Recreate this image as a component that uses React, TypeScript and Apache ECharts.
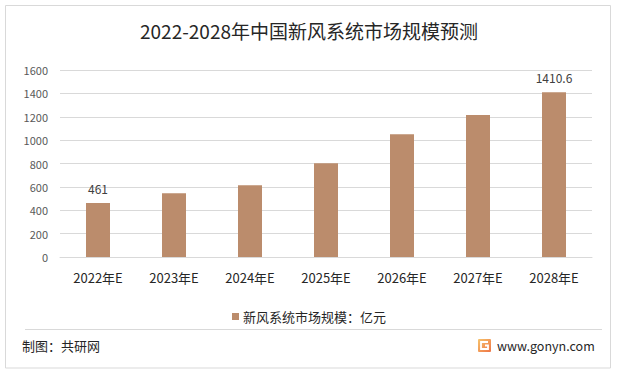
import React, { useEffect, useRef } from "react";
import * as echarts from "echarts";

const categories = ["2022年E", "2023年E", "2024年E", "2025年E", "2026年E", "2027年E", "2028年E"];
const marketSize = [461, 546, 614, 803, 1051, 1214, 1410.6];
const labelledIndices = [0, 6];
const seriesName = "新风系统市场规模：亿元";
const titleText = "2022-2028年中国新风系统市场规模预测";
const footerLeft = "制图：共研网";
const footerRight = "www.gonyn.com";

const FONT = "'Microsoft YaHei', 'Noto Sans CJK SC', 'Noto Sans', sans-serif";

export default function App() {
  const ref = useRef<HTMLDivElement>(null);
  useEffect(() => {
    if (!ref.current) return;
    const chart = echarts.init(ref.current, undefined, { renderer: "svg" });
    chart.setOption({
      animation: false,
      backgroundColor: "#ffffff",
      textStyle: { fontFamily: FONT },
      title: {
        text: titleText,
        left: "center",
        top: 16,
        textStyle: { fontSize: 19, fontWeight: "normal", color: "#262626", fontFamily: FONT },
      },
      legend: {
        data: [seriesName],
        left: "center",
        top: 305,
        icon: "rect",
        itemWidth: 7,
        itemHeight: 7,
        itemGap: 4,
        textStyle: { fontSize: 13, color: "#262626", fontFamily: FONT, padding: [0, 0, 0, -1] },
      },
      grid: { left: 60, right: 26, top: 70, bottom: 116, containLabel: false },
      xAxis: {
        type: "category",
        data: categories,
        axisLine: { lineStyle: { color: "#d9d9d9" } },
        axisTick: { show: false },
        axisLabel: { fontSize: 13, color: "#262626", margin: 14, fontFamily: FONT },
      },
      yAxis: {
        type: "value",
        min: 0,
        max: 1600,
        interval: 200,
        axisLine: { show: false },
        axisTick: { show: false },
        splitLine: { lineStyle: { color: "#d9d9d9" } },
        axisLabel: {
          fontSize: 11,
          color: "#595959",
          margin: 12,
          fontFamily: FONT,
          formatter: (v: number) => String(v),
        },
      },
      series: [
        {
          name: seriesName,
          type: "bar",
          barWidth: 24,
          itemStyle: { color: "#BB8C6C" },
          data: marketSize.map((v, i) => ({
            value: v,
            label: {
              show: labelledIndices.includes(i),
              position: "top",
              distance: 9,
              fontSize: 12,
              color: "#404040",
              fontFamily: FONT,
            },
          })),
        },
      ],
      graphic: [
        {
          type: "rect",
          shape: { x: 5.5, y: 5.5, width: 605, height: 362.5 },
          style: { fill: "none", stroke: "#d9d9d9", lineWidth: 1 },
          silent: true,
          z: -1,
        },
        {
          type: "line",
          shape: { x1: 25, y1: 329.5, x2: 602, y2: 329.5 },
          style: { stroke: "#d9d9d9", lineWidth: 1 },
          silent: true,
        },
        {
          type: "text",
          x: 22,
          y: 345,
          style: { text: footerLeft, fontSize: 13, fill: "#262626", fontFamily: FONT, verticalAlign: "middle" },
        },
        {
          type: "rect",
          shape: { x: 478, y: 339, width: 13, height: 13, r: 1 },
          style: {
            fill: new echarts.graphic.LinearGradient(0, 0, 1, 1, [
              { offset: 0, color: "#f7c46c" },
              { offset: 1, color: "#ee7446" },
            ]),
          },
        },
        {
          type: "polyline",
          shape: { points: [[488, 342], [481, 342], [481, 349], [488, 349], [488, 345.5], [485, 345.5]] },
          style: { stroke: "#ffffff", lineWidth: 1.8, fill: "none" },
        },
        {
          type: "text",
          x: 497,
          y: 345,
          style: { text: footerRight, fontSize: 12.5, fill: "#262626", fontFamily: FONT, verticalAlign: "middle" },
        },
      ],
    });
    return () => chart.dispose();
  }, []);
  return (
    <div
      ref={ref}
      style={{ position: "fixed", left: 0, top: 0, width: 618, height: 373 }}
    />
  );
}
